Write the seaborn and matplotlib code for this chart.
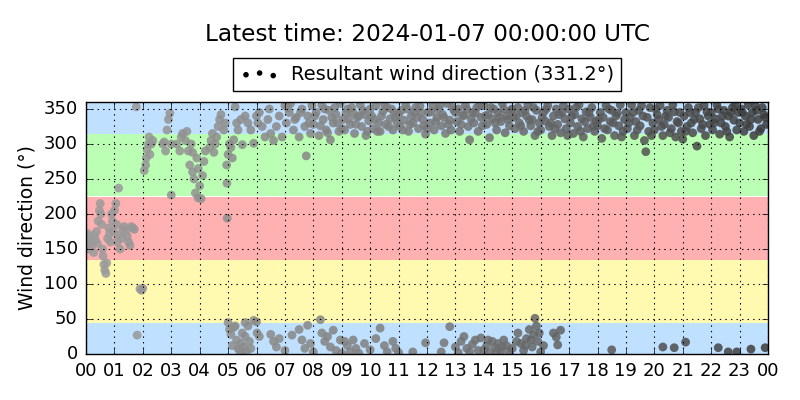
import numpy as np
import pandas as pd
import matplotlib
matplotlib.use("Agg")
import matplotlib.pyplot as plt
from matplotlib.colors import LinearSegmentedColormap
import seaborn as sns

# night / early morning: southerly then veering to NW
t_early = [0.0, 0.03, 0.06, 0.1, 0.13, 0.16, 0.2, 0.23, 0.27, 0.3, 0.33, 0.37, 0.4, 0.43, 0.47,
           0.5, 0.52, 0.55, 0.58, 0.6, 0.63, 0.66, 0.7, 0.73, 0.76, 0.8, 0.83, 0.86, 0.9, 0.93,
           0.96, 1.0, 1.05, 1.08, 1.1, 1.15, 1.15, 1.2, 1.25, 1.3, 1.35, 1.4, 1.45, 1.5, 1.55,
           1.6, 1.65, 1.7, 1.77, 1.8, 1.9, 1.95, 2.0,
           2.05, 2.1, 2.12, 2.15, 2.2, 2.22, 2.25, 2.3, 2.35,
           2.7, 2.75, 2.8, 2.85, 2.9, 2.95, 3.0, 3.0,
           3.2, 3.3, 3.35, 3.4, 3.5, 3.55, 3.6, 3.7, 3.75,
           3.65, 3.75, 3.8, 3.85, 3.9, 3.95, 3.95, 4.0, 4.05, 4.1, 4.15, 4.2,
           4.35, 4.4, 4.45, 4.5, 4.55, 4.6, 4.65, 4.7, 4.75, 4.85, 4.9,
           4.95, 4.96, 4.97, 5.0, 5.05, 5.1, 5.15, 5.2,
           5.25, 5.3, 5.35, 5.45, 5.5, 5.6, 5.7, 5.8, 5.9,
           6.0, 6.05, 6.1, 6.2, 6.3, 6.4, 6.45, 6.5, 6.6, 6.7, 6.8, 6.9, 7.0]
d_early = [165, 158, 172, 150, 162, 168, 155, 160, 145, 170, 163, 175, 158, 190, 205,
           215, 200, 185, 150, 140, 128, 120, 115, 130, 165, 180, 172, 160, 200, 190,
           175, 205, 215, 185, 160, 170, 237, 150, 165, 178, 182, 175, 168, 160, 155,
           182, 180, 178, 353, 27, 93, 91, 94,
           262, 270, 280, 292, 300, 310, 285, 300, 305,
           300, 303, 290, 320, 335, 344, 227, 300,
           300, 290, 310, 315, 305, 318, 290, 300, 288,
           270, 260, 250, 230, 280, 223, 265, 240, 222, 255, 275, 290,
           295, 305, 315, 288, 300, 310, 325, 335, 342, 320, 330,
           270, 244, 194, 285, 300, 295, 280, 306,
           353, 330, 320, 335, 299, 340, 330, 320, 301,
           340, 330, 345, 325, 310, 335, 350, 315, 305, 325, 340, 310, 355]

# north-westerly from 07 UTC onwards
t_top = [7.05, 7.15, 7.2, 7.3, 7.4, 7.5, 7.6, 7.7, 7.75, 7.8, 7.9, 7.95,
         8.0, 8.1, 8.2, 8.3, 8.35, 8.45, 8.55, 8.6, 8.7, 8.8, 8.9, 8.95,
         9.05, 9.1, 9.2, 9.3, 9.4, 9.45, 9.55, 9.65, 9.7, 9.8, 9.9, 9.95,
         10.05, 10.1, 10.2, 10.3, 10.35, 10.45, 10.55, 10.6, 10.7, 10.8, 10.85, 10.95,
         11.05, 11.1, 11.2, 11.25, 11.35, 11.45, 11.5, 11.6, 11.7, 11.8, 11.85, 11.95,
         12.05, 12.1, 12.2, 12.25, 12.35, 12.4, 12.5, 12.55, 12.65, 12.7, 12.8, 12.85, 12.95,
         13.05, 13.1, 13.15, 13.25, 13.3, 13.35, 13.45, 13.5, 13.6, 13.65, 13.75, 13.8, 13.9, 13.95,
         14.0, 14.1, 14.15, 14.2, 14.3, 14.35, 14.45, 14.5, 14.6, 14.65, 14.75, 14.8, 14.9, 14.95,
         15.05, 15.1, 15.2, 15.25, 15.35, 15.4, 15.5, 15.55, 15.65, 15.7, 15.8, 15.85, 15.95,
         16.0, 16.1, 16.15, 16.25, 16.3, 16.4, 16.45, 16.55, 16.6, 16.7, 16.75, 16.85, 16.9,
         17.0, 17.05, 17.15, 17.2, 17.3, 17.35, 17.45, 17.5, 17.6, 17.65, 17.75, 17.8, 17.9, 17.95,
         18.0, 18.1, 18.15, 18.2, 18.3, 18.35, 18.45, 18.5, 18.6, 18.65, 18.75, 18.8, 18.9, 18.95,
         19.0, 19.05, 19.15, 19.2, 19.3, 19.35, 19.45, 19.5, 19.6, 19.65, 19.7, 19.8, 19.85, 19.95,
         20.0, 20.1, 20.15, 20.2, 20.3, 20.35, 20.45, 20.5, 20.6, 20.65, 20.75, 20.8, 20.9, 20.95,
         21.0, 21.05, 21.15, 21.2, 21.3, 21.35, 21.45, 21.5, 21.6, 21.65, 21.75, 21.8, 21.9, 21.95,
         22.0, 22.05, 22.15, 22.2, 22.3, 22.35, 22.45, 22.5, 22.6, 22.65, 22.75, 22.8, 22.9, 22.95,
         23.0, 23.05, 23.15, 23.2, 23.3, 23.35, 23.45, 23.5, 23.6, 23.65, 23.75, 23.8, 23.9, 23.95]
d_top = [330, 345, 358, 320, 338, 310, 350, 325, 283, 340, 315, 355,
         328, 345, 312, 355, 335, 320, 348, 306, 330, 342, 318, 358,
         335, 320, 350, 328, 345, 315, 338, 356, 325, 342, 318, 333,
         340, 322, 355, 330, 318, 347, 328, 352, 336, 320, 345, 330,
         325, 348, 334, 356, 318, 340, 330, 352, 322, 345, 335, 314,
         345, 330, 355, 320, 338, 350, 326, 342, 315, 358, 334, 320, 348,
         332, 350, 318, 340, 341, 356, 325, 306, 345, 330, 352, 318, 338, 326,
         355, 328, 342, 309, 336, 350, 320, 345, 332, 358, 316, 340, 326, 348,
         338, 322, 352, 330, 345, 318, 340, 356, 326, 335, 312, 348, 330,
         320, 345, 333, 355, 325, 312, 340, 350, 328, 316, 345, 336, 322,
         350, 330, 315, 342, 325, 356, 336, 310, 346, 322, 338, 352, 318, 332,
         326, 345, 308, 338, 355, 320, 332, 348, 312, 340, 326, 356, 318, 335,
         345, 322, 338, 356, 312, 332, 348, 326, 340, 305, 289, 318, 352, 330,
         320, 342, 335, 355, 312, 328, 348, 338, 322, 356, 310, 332, 345, 318,
         307, 340, 325, 352, 330, 316, 345, 297, 336, 322, 355, 312, 340, 328,
         345, 320, 336, 356, 314, 330, 348, 325, 340, 310, 352, 334, 320, 345,
         330, 350, 318, 340, 356, 325, 345, 312, 348, 335, 322, 352, 338, 328]

# extra readings filling the dense NW cloud
t_fill = [7.1, 7.35, 7.55, 7.85,
          8.05, 8.25, 8.4, 8.5, 8.65, 8.75, 8.85,
          9.0, 9.15, 9.25, 9.35, 9.5, 9.6, 9.75, 9.85,
          10.0, 10.15, 10.25, 10.4, 10.5, 10.65, 10.75, 10.9,
          11.0, 11.15, 11.3, 11.4, 11.55, 11.65, 11.75, 11.9,
          12.0, 12.15, 12.3, 12.45, 12.6, 12.75, 12.9,
          13.0, 13.2, 13.4, 13.55, 13.7, 13.85,
          14.05, 14.25, 14.4, 14.55, 14.7, 14.85,
          15.0, 15.15, 15.3, 15.45, 15.6, 15.75, 15.9,
          16.05, 16.2, 16.35, 16.5, 16.65, 16.8, 16.95,
          17.1, 17.25, 17.4, 17.55, 17.7, 17.85,
          18.05, 18.25, 18.4, 18.55, 18.7, 18.85,
          19.1, 19.25, 19.4, 19.55, 19.75, 19.9,
          20.05, 20.25, 20.4, 20.55, 20.7, 20.85,
          21.1, 21.25, 21.4, 21.55, 21.7, 21.85,
          22.1, 22.25, 22.4, 22.55, 22.7, 22.85,
          23.1, 23.25, 23.4, 23.55, 23.7, 23.85]
d_fill = [352, 335, 345, 330,
          340, 326, 350, 316, 338, 352, 330,
          322, 345, 336, 352, 328, 340, 348, 312,
          350, 335, 318, 340, 357, 325, 350, 338,
          342, 320, 350, 328, 345, 338, 354, 326,
          322, 346, 332, 355, 338, 328, 352,
          345, 328, 350, 336, 344, 355,
          340, 352, 330, 338, 350, 335,
          350, 340, 326, 348, 334, 352, 318,
          338, 350, 330, 322, 342, 355, 312,
          340, 352, 318, 332, 345, 326,
          335, 322, 350, 330, 344, 310,
          330, 345, 320, 355, 338, 312,
          350, 325, 340, 316, 346, 330,
          318, 345, 335, 352, 328, 346,
          330, 350, 340, 318, 345, 356,
          345, 328, 335, 355, 318, 342]

# northerly spells (just past 0 deg)
t_low = [5.0, 5.05, 5.1, 5.15, 5.2, 5.25, 5.3, 5.35, 5.4, 5.45, 5.5, 5.5, 5.55, 5.6, 5.6, 5.65,
         5.7, 5.75, 5.8, 5.9,
         6.0, 6.02, 6.1, 6.5, 6.6, 6.7, 6.8, 7.0, 7.25, 7.5, 7.6, 7.7, 7.8, 7.9, 8.0,
         8.25, 8.3, 8.4, 8.5, 8.6, 8.7, 8.8, 8.95, 9.0, 9.1, 9.2, 9.3, 9.4, 9.5, 9.6, 9.8,
         10.0, 10.2, 10.35, 10.5, 10.6, 10.8, 10.9, 11.0, 11.5, 11.95, 12.5, 12.6, 12.8,
         13.0, 13.1, 13.2, 13.3, 13.4, 13.5, 13.6, 13.7, 13.8, 13.9, 14.0, 14.1, 14.15,
         14.2, 14.3, 14.4, 14.45, 14.5, 14.6, 14.65, 14.7, 14.8, 14.9, 15.0, 15.15, 15.2,
         15.3, 15.4, 15.45, 15.5, 15.6, 15.65, 15.7, 15.75, 15.8, 15.85, 15.9, 15.95,
         16.0, 16.1, 16.45, 16.55, 16.6, 16.7,
         18.5, 20.3, 20.7, 21.1, 22.25, 22.6, 22.9, 23.4, 23.9]
d_low = [45, 35, 28, 12, 38, 40, 20, 8, 5, 15, 30, 3, 10, 25, 45, 3,
         40, 18, 8, 48,
         46, 30, 25, 28, 18, 10, 22, 5, 27, 35, 20, 8, 41, 15, 3,
         49, 30, 18, 25, 10, 34, 5, 20, 1, 18, 12, 3, 20, 8, 1, 15,
         6, 22, 37, 12, 3, 18, 8, 2, 3, 16, 3, 16, 39,
         10, 2, 18, 25, 8, 3, 14, 20, 5, 23, 6, 12, 20,
         2, 18, 9, 3, 15, 4, 10, 20, 12, 2, 8, 18, 30,
         15, 5, 12, 22, 35, 20, 10, 28, 51, 40, 18, 30,
         3, 12, 30, 24, 13, 34,
         6, 10, 9, 17, 9, 3, 3, 7, 9]

x_labels = ["00", "01", "02", "03", "04", "05", "06", "07", "08", "09", "10", "11", "12",
            "13", "14", "15", "16", "17", "18", "19", "20", "21", "22", "23", "00"]
y_ticks = [0, 50, 100, 150, 200, 250, 300, 350]

# direction sectors: N, E, S, W, N
band_lo = [0, 45, 135, 225, 315]
band_hi = [45, 135, 225, 315, 360]
band_colors = ["#bfe0ff", "#fffab0", "#ffb0b0", "#bbffb5", "#bfe0ff"]

resultant = 331.2
latest = "2024-01-07 00:00:00 UTC"

df = pd.DataFrame({
    "hour": t_early + t_top + t_fill + t_low,
    "direction": d_early + d_top + d_fill + d_low,
})

plt.style.use("classic")
plt.rcParams["font.family"] = ["DejaVu Sans"]

fig = plt.figure(figsize=(8, 4), dpi=100, facecolor="white")
ax = fig.add_axes([0.1075, 0.115, 0.8525, 0.63])

for lo, hi, c in zip(band_lo, band_hi, band_colors):
    ax.axhspan(lo, hi, color=c, lw=0, zorder=0)

greys = LinearSegmentedColormap.from_list("age", ["#9c9c9c", "#7a7a7a", "#3c3c3c"])
sns.scatterplot(data=df, x="hour", y="direction", hue="hour", palette=greys,
                hue_norm=(0, 24), s=40, linewidth=0, alpha=0.85,
                legend=False, ax=ax, zorder=2)

ax.set_xlim(0, 24)
ax.set_ylim(0, 360)
ax.set_xticks(range(25))
ax.set_xticklabels(x_labels)
ax.set_yticks(y_ticks)
ax.tick_params(labelsize=13)
ax.tick_params(axis="x", pad=6)
ax.tick_params(axis="y", pad=6)
ax.set_xlabel("")
ax.set_ylabel("Wind direction (°)", fontsize=13.5)
ax.grid(True, color="k", linestyle=":", linewidth=0.8, zorder=1)

proxy = ax.scatter([], [], s=16, c="k", linewidths=0,
                   label=f"Resultant wind direction ({resultant:.1f}°)")
ax.legend(handles=[proxy], loc="lower center", bbox_to_anchor=(0.5, 1.045),
          scatterpoints=3, fontsize=14, frameon=True, fancybox=False,
          borderaxespad=0, handletextpad=0.6, borderpad=0.35)
ax.set_title(f"Latest time: {latest}", fontsize=16.7, pad=44)

fig.savefig("out.png", dpi=100, facecolor="white")
